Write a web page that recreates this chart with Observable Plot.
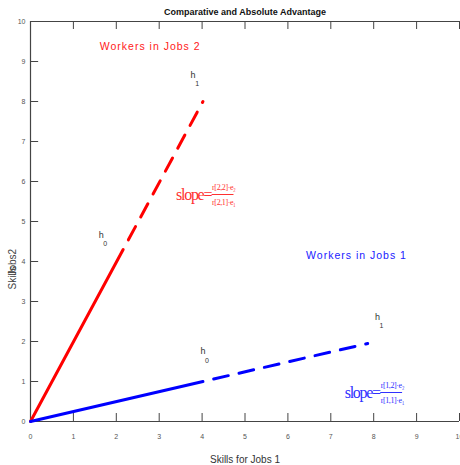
<!DOCTYPE html>
<html>
<head>
<meta charset="utf-8">
<script src="https://cdn.jsdelivr.net/npm/d3@7"></script>
<script src="https://cdn.jsdelivr.net/npm/@observablehq/plot@0.6"></script>
<style>
body { margin: 0; background: #fff; }
#chart svg { display: block; }
</style>
</head>
<body>
<div id="chart"></div>
<script>
// ---- data ----
const xTicks = [0,1,2,3,4,5,6,7,8,9,10];
const yTicks = [0,1,2,3,4,5,6,7,8,9,10];
const redSolid = [{x:0,y:0},{x:2.16,y:4.3}];
const redDashed = [{x:2.16,y:4.3},{x:4.02,y:8.0}];
const blueSolid = [{x:0,y:0},{x:4.02,y:1.0}];
const blueDashed = [{x:4.02,y:1.0},{x:7.86,y:1.95}];
const hLabels = [
  {x:3.79, y:8.67, t:"h", s:"1"},
  {x:1.65, y:4.67, t:"h", s:"0"},
  {x:4.02, y:1.75, t:"h", s:"0"},
  {x:8.09, y:2.62, t:"h", s:"1"}
];
const groupLabels = [
  {x:2.79, y:9.38, t:"Workers in Jobs 2", c:"#ff2020"},
  {x:7.6, y:4.15, t:"Workers in Jobs 1", c:"#2020ff"}
];
const slopes = [
  {x:4.21, y:5.675, num:"r[2,2]·e\u2082", den:"r[2,1]·e\u2081", c:"#ff3030"},
  {x:8.14, y:0.725, num:"r[1,2]·e\u2082", den:"r[1,1]·e\u2081", c:"#3030ff"}
];
const fracWidth = 0.51;
const title = "Comparative and Absolute Advantage";
const xLabel = "Skills for Jobs 1";
const yLabelParts = [{t:"Skills", y:3.3}, {t:"Jobs2", y:3.65}];

const axisColor = "#444";
const sans = "Liberation Sans, Arial, sans-serif";
const serif = "Liberation Serif, Times New Roman, serif";

const chart = Plot.plot({
  width: 460,
  height: 465,
  marginLeft: 30,
  marginRight: 1,
  marginTop: 21,
  marginBottom: 44,
  x: {domain: [0, 10]},
  y: {domain: [0, 10]},
  style: {fontFamily: sans, background: "#fff"},
  marks: [
    // frame lines
    Plot.ruleX([0], {stroke: axisColor, strokeWidth: 1.2}),
    Plot.ruleY([0], {stroke: axisColor, strokeWidth: 1.2}),
    Plot.ruleY([10], {stroke: axisColor, strokeWidth: 1.2}),
    // inward ticks
    Plot.ruleX(xTicks, {x: d => d, y1: 0, y2: 0.2, stroke: axisColor}),
    Plot.ruleX(xTicks, {x: d => d, y1: 10, y2: 9.8, stroke: axisColor}),
    Plot.ruleY(yTicks, {y: d => d, x1: 0, x2: 0.19, stroke: axisColor}),
    // tick labels
    Plot.axisX({ticks: xTicks, tickSize: 0, tickPadding: 13, fontSize: 7, color: "#555", label: null, tickFormat: d => d}),
    Plot.axisY({ticks: yTicks, tickSize: 0, tickPadding: 5, fontSize: 7, color: "#555", label: null, tickFormat: d => d}),
    // lines
    Plot.line(redSolid, {x: "x", y: "y", stroke: "#ff0000", strokeWidth: 3}),
    Plot.line(redDashed, {x: "x", y: "y", stroke: "#ff0000", strokeWidth: 3, strokeDasharray: "15,11", strokeDashoffset: 15}),
    Plot.line(blueSolid, {x: "x", y: "y", stroke: "#0000ff", strokeWidth: 3}),
    Plot.line(blueDashed, {x: "x", y: "y", stroke: "#0000ff", strokeWidth: 3, strokeDasharray: "15,11", strokeDashoffset: 15}),
    // h labels
    Plot.text(hLabels, {x: "x", y: "y", text: "t", fontSize: 9, fill: "#333"}),
    Plot.text(hLabels, {x: "x", y: "y", text: "s", fontSize: 7, fill: "#333", dx: 4, dy: 9}),
    // group labels
    Plot.text(groupLabels, {x: "x", y: "y", text: "t", fill: "c", fontSize: 10.5, className: "grp"}),
    // slope annotations
    Plot.text(slopes, {x: "x", y: "y", text: () => "slope=", fill: "c", fontSize: 16, fontFamily: serif, textAnchor: "end", dy: 0, className: "slp"}),
    Plot.text(slopes, {x: "x", y: "y", text: "num", fill: "c", fontSize: 8, fontFamily: serif, textAnchor: "start", dx: 1, dy: -7, className: "frc"}),
    Plot.text(slopes, {x: "x", y: "y", text: "den", fill: "c", fontSize: 8, fontFamily: serif, textAnchor: "start", dx: 1, dy: 8, className: "frc"}),
    Plot.ruleY(slopes, {y: "y", x1: "x", x2: d => d.x + fracWidth, stroke: "c", strokeWidth: 1, dx: 1}),
    // title & axis labels
    Plot.text([title], {frameAnchor: "top", text: d => d, dy: -13, fontSize: 9, fontWeight: "bold", fill: "#111"}),
    Plot.text([xLabel], {frameAnchor: "bottom", text: d => d, dy: 41, fontSize: 10, fill: "#333"}),
    Plot.text(yLabelParts, {frameAnchor: "left", y: "y", text: "t", dx: -18, rotate: -90, fontSize: 10, fill: "#444"})
  ]
});
chart.querySelectorAll(".grp text").forEach(t => t.style.letterSpacing = "1px");
chart.querySelectorAll(".slp text").forEach(t => t.style.letterSpacing = "-1.3px");
chart.querySelectorAll(".frc text").forEach(t => t.style.letterSpacing = "-0.4px");
document.getElementById("chart").appendChild(chart);
</script>
</body>
</html>
